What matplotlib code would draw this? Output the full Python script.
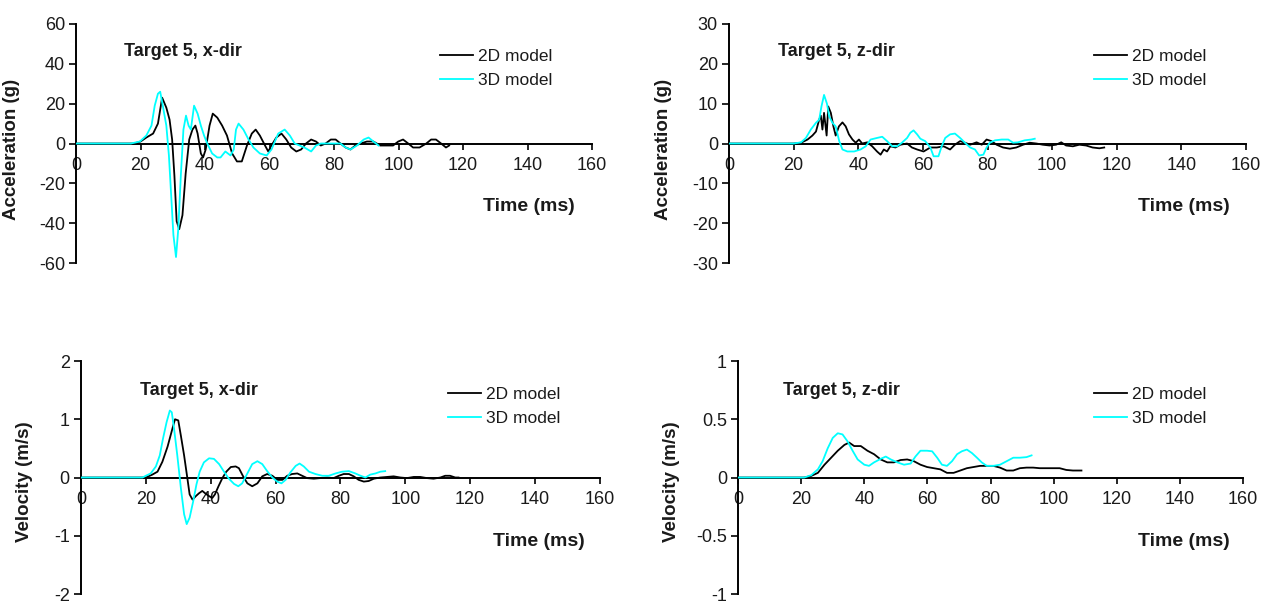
import matplotlib
matplotlib.use("Agg")
import matplotlib.pyplot as plt

plt.rcParams['font.family'] = ['Liberation Sans', 'DejaVu Sans']
plt.rcParams['axes.unicode_minus'] = False

# ---- data ----
# Acceleration, x-dir (g)
acc_x_t2d = [0, 18, 20, 21.8, 23.9, 25.4, 26.7, 28, 29, 29.8, 30.5, 31.2, 32, 33, 34, 35.1, 36.1, 37, 37.7,
             38.7, 39.4, 40.2, 41.4, 42.4, 43.8, 45.3, 46.8, 48.4, 49.9, 51.4, 53, 54.5, 55.7, 57, 58.6, 59.6,
             60.6, 62.1, 63.7, 65.2, 66.7, 68.3, 69.8, 71.3, 72.9, 74.4, 75.9, 77.4, 79, 80.5, 82, 83.6, 85.1,
             86.6, 88.2, 90.2, 92.2, 94.3, 96.3, 98.3, 99.9, 101.4, 103, 104.5, 106.5, 108.6, 110.1, 111.6,
             113.2, 114.7, 115.7]
acc_x_2d = [0, 0, 1, 3, 5, 10, 23, 18, 12, 2, -16, -39, -43, -36, -15, 2, 7, 9, 5,
            -5, -7, -3, 9, 15, 13, 9, 4, -5, -9, -9, -1, 5, 7, 4, -1, -4,
            -1, 3, 5, 2, -2, -4, -3, 0, 2, 1, -1, 0, 2, 2, 0, -2, -3,
            -1, 0, 1, 1, -1, -1, -1, 1, 2, 0, -2, -2, 0, 2, 2,
            0, -2, -1]
acc_x_t3d = [0, 17, 19.8, 21.8, 23.4, 24.4, 25.4, 26.1, 26.9, 28, 28.8, 29.5, 30.2, 31, 31.7, 32.5, 33.3, 34.1,
             34.9, 35.6, 36.6, 37.7, 38.7, 39.7, 40.7, 42.2, 43.8, 44.8, 46.3, 47.9, 48.9, 49.6, 50.4, 51.9,
             53.5, 55, 57, 59.1, 60.6, 62.7, 64.7, 66.3, 67.8, 69.3, 70.8, 72.9, 74.4, 75.9, 78, 80, 82, 83.6,
             85.1, 87.1, 89.2, 90.7, 92.2, 93.8]
acc_x_3d = [0, 0, 1, 4, 9, 19, 25, 26, 19, 9, -6, -26, -46, -57, -43, -16, 7, 14,
            9, 7, 19, 15, 9, 4, 0, -5, -7, -7, -4, -6, -3, 7, 10, 7,
            2, -2, -5, -6, -3, 5, 7, 4, 0, -1, -2, -4, -1, 0, 0, 0, 0, -2,
            -3, -1, 2, 3, 1, -1]

# Acceleration, z-dir (g)
acc_z_t2d = [0, 20, 22.3, 24.3, 25.8, 26.9, 27.9, 28.4, 28.9, 29.4, 30.2, 30.7, 31.5, 32.3, 33, 34, 35.1, 36.1,
             37.1, 38.2, 39.2, 40.2, 41.2, 42.8, 44.3, 45.8, 46.9, 47.9, 48.9, 49.9, 51.5, 53, 55.1, 56.6, 58.2,
             60.2, 62.3, 64.3, 66.4, 68.4, 69.9, 71.5, 73, 74.6, 76.6, 78.2, 79.7, 81.2, 82.8, 84.8, 86.9, 88.9,
             91, 93, 95.1, 97.1, 99.2, 101.2, 102.8, 104.3, 106.4, 108.4, 110.5, 112.5, 114.6, 116.1]
acc_z_2d = [0, 0, 0.2, 1, 2, 3, 6, 7, 3.5, 7.7, 2, 9.3, 7.7, 4.3, 2, 4.3, 5.3, 4.3,
            2.3, 1, 0.2, 1, 0, 0.3, -0.7, -2, -2.8, -1.5, -2, -0.7, -1, -0.3, 0, -1, -1.5,
            -2, -1, -1, -0.7, -1.5, -0.3, 0.6, 0.2, -0.3, 0.3, -0.3, 1, 0.6, -0.3, -1, -1.3, -1,
            -0.3, 0.2, 0, -0.3, -0.5, -0.3, 0.3, -0.5, -0.7, -0.3, -0.5, -1, -1.2, -1]
acc_z_t3d = [0, 20, 22.3, 23.8, 25.3, 26.9, 27.9, 28.6, 29.4, 30.3, 31, 32, 33, 34.1, 35.1, 36.6, 38.7, 40.7,
             42.3, 43.8, 45.8, 47.4, 48.9, 50.5, 52, 53.5, 55.1, 56.1, 57.1, 58.2, 59.2, 60.7, 62.3, 63.3,
             64.8, 65.8, 66.9, 68.4, 69.9, 71.5, 73, 74.6, 76.1, 77.4, 78.7, 79.7, 80.7, 82.3, 84.4, 86.4,
             87.9, 89.4, 91.5, 93.5, 94.6]
acc_z_3d = [0, 0, 0.3, 1.4, 3.5, 5.2, 6, 9.3, 12.2, 10, 6.8, 5.2, 4.3, 0.6, -1.5, -2, -2, -1.5,
            -0.7, 1, 1.4, 1.7, 0.6, -0.7, -0.7, 0.2, 1.4, 2.7, 3.3, 2.3, 1.2, 0.6, -1, -3.2,
            -3.2, -0.7, 1.4, 2.3, 2.5, 1.4, 0.2, -1, -1.5, -3, -2.8, -1, 0.2, 0.8, 1, 1,
            0.2, 0.3, 0.8, 1, 1.2]

# Velocity, x-dir (m/s)
vel_x_t2d = [0, 20, 22, 23.6, 25.1, 26.7, 28.2, 29, 30, 30.8, 31.8, 32.8, 33.5, 34.4, 35.4, 36.4, 37.4, 38.5,
             39.5, 40.5, 41.3, 42.4, 43.6, 44.8, 46.2, 47.7, 48.7, 49.9, 51.3, 52.8, 54.4, 55.9, 57.4, 59,
             60.5, 62.1, 63.6, 65.1, 66.7, 68.2, 69.7, 71.8, 73.8, 75.9, 77.9, 79.5, 81, 82.6, 84.1, 85.6,
             87.2, 88.7, 90.3, 92.3, 94.4, 96.4, 98.5, 100.5, 102.6, 104.6, 106.7, 108.7, 110.8, 112.3,
             113.8, 115.4, 116.4]
vel_x_2d = [0, 0, 0.05, 0.1, 0.27, 0.53, 0.84, 1.0, 0.98, 0.72, 0.38, -0.01, -0.29, -0.38, -0.32, -0.27, -0.23, -0.28,
            -0.32, -0.35, -0.29, -0.15, -0.01, 0.1, 0.18, 0.19, 0.16, 0.03, -0.1, -0.15, -0.1, 0.02, 0.06, 0.03,
            -0.04, -0.04, 0.03, 0.06, 0.07, 0.03, -0.01, -0.02, -0.01, 0, -0.01, 0.03, 0.06, 0.06, 0.02, -0.04,
            -0.07, -0.06, -0.02, 0, 0.01, 0.02, 0, -0.01, 0.01, 0.01, -0.01, -0.02, 0, 0.03,
            0.03, 0, 0]
vel_x_t3d = [0, 19, 20, 21.5, 23.1, 24.3, 25.3, 26.4, 27.4, 28, 28.7, 29.7, 30.8, 31.8, 32.6, 33.5, 34.6, 35.6,
             36.6, 37.9, 39.5, 41, 42.6, 44.1, 45.6, 47.2, 48.5, 49.7, 51.3, 52.8, 54.4, 55.9, 57.4, 59,
             60.5, 61.8, 63.1, 64.6, 66.2, 67.4, 68.7, 70.3, 72.3, 74.4, 76.4, 78.5, 80.5, 82.6, 84.6, 86.2,
             87.7, 89.2, 90.8, 92.3, 93.8]
vel_x_3d = [0, 0, 0.03, 0.07, 0.19, 0.38, 0.67, 0.95, 1.15, 1.12, 0.84, 0.38, -0.18, -0.63, -0.8, -0.69, -0.41, -0.12,
            0.1, 0.26, 0.33, 0.32, 0.23, 0.1, -0.02, -0.11, -0.15, -0.1, 0.07, 0.23, 0.28, 0.23, 0.11, 0,
            -0.07, -0.1, -0.04, 0.09, 0.2, 0.24, 0.19, 0.1, 0.06, 0.03, 0.03, 0.07, 0.1, 0.11, 0.07, 0.03,
            0, 0.05, 0.07, 0.1, 0.11]

# Velocity, z-dir (m/s)
vel_z_t2d = [0, 21, 23.2, 25.3, 27.4, 29.5, 31.6, 33.7, 35.2, 36.8, 38.9, 41, 43.1, 45.2, 47.3, 49.4, 51.5, 53.6,
             55.7, 57.8, 59.9, 62, 64.1, 66.2, 68.3, 70.4, 72.5, 74.6, 76.7, 78.8, 80.9, 83, 85.1, 87.2, 89.3,
             91.4, 93.5, 95.6, 97.7, 99.8, 101.9, 104, 106.1, 108.8]
vel_z_2d = [0, 0, 0.014, 0.04, 0.11, 0.17, 0.23, 0.28, 0.3, 0.27, 0.27, 0.23, 0.2, 0.155, 0.13, 0.13, 0.15, 0.155,
            0.14, 0.11, 0.09, 0.08, 0.07, 0.04, 0.04, 0.06, 0.08, 0.09, 0.1, 0.1, 0.1, 0.085, 0.06, 0.06, 0.08,
            0.085, 0.085, 0.08, 0.08, 0.08, 0.08, 0.065, 0.06, 0.06]
vel_z_t3d = [0, 21, 23.2, 25.3, 26.8, 28.4, 30, 31.6, 33.1, 34.7, 36.3, 37.9, 40, 41.5, 43.1, 45.2, 46.8, 48.4,
             50.5, 52.6, 54.7, 56.2, 57.8, 59.9, 61.5, 63.1, 64.6, 66.2, 67.8, 69.4, 70.9, 72.5, 74.1, 75.7,
             77.2, 78.8, 80.9, 83, 85.1, 87.2, 89.3, 91.4, 93]
vel_z_3d = [0, 0, 0.02, 0.07, 0.14, 0.25, 0.34, 0.38, 0.37, 0.31, 0.23, 0.155, 0.11, 0.1, 0.13, 0.16, 0.18, 0.155,
            0.13, 0.11, 0.12, 0.18, 0.23, 0.23, 0.225, 0.17, 0.11, 0.1, 0.14, 0.2, 0.225, 0.24, 0.21, 0.17,
            0.13, 0.1, 0.1, 0.11, 0.14, 0.17, 0.17, 0.175, 0.19]

x_ticks = [0, 20, 40, 60, 80, 100, 120, 140, 160]

CYAN = "#00FFFF"
TXT = "#1a1a1a"

fig = plt.figure(figsize=(12.67, 6.03), dpi=100)

panels = [
    # position, title, ylabel, ylim, yticks, t2d, v2d, t3d, v3d, title_x, legend_x, time_x, ylabel_x, ylabel_y
    ([0.0600, 0.5638, 0.4073, 0.3964], "Target 5, x-dir", "Acceleration (g)", (-60, 60),
     [-60, -40, -20, 0, 20, 40, 60], acc_x_t2d, acc_x_2d, acc_x_t3d, acc_x_3d, 0.093, 0.705, 0.789, -0.108, 0.477),
    ([0.5754, 0.5638, 0.4081, 0.3964], "Target 5, z-dir", "Acceleration (g)", (-30, 30),
     [-30, -20, -10, 0, 10, 20, 30], acc_z_t2d, acc_z_2d, acc_z_t3d, acc_z_3d, 0.095, 0.706, 0.791, -0.110, 0.477),
    ([0.0639, 0.0149, 0.4096, 0.3864], "Target 5, x-dir", "Velocity (m/s)", (-2, 2),
     [-2, -1, 0, 1, 2], vel_x_t2d, vel_x_2d, vel_x_t3d, vel_x_3d, 0.114, 0.707, 0.794, -0.0925, 0.481),
    ([0.5825, 0.0149, 0.3986, 0.3864], "Target 5, z-dir", "Velocity (m/s)", (-1, 1),
     [-1, -0.5, 0, 0.5, 1], vel_z_t2d, vel_z_2d, vel_z_t3d, vel_z_3d, 0.089, 0.705, 0.792, -0.115, 0.481),
]

for (pos, title, ylab, ylim, yticks, t2, v2, t3, v3, tx, lx, timex, ylx, yly) in panels:
    ax = fig.add_axes(pos)
    ax.plot(t2, v2, color="black", lw=1.3, zorder=3, label="2D model")
    ax.plot(t3, v3, color=CYAN, lw=1.3, zorder=4, label="3D model")

    ax.set_xlim(0, 160)
    ax.set_ylim(*ylim)
    ax.set_xticks(x_ticks)
    ax.set_yticks(yticks)
    ax.set_yticklabels(["%g" % v for v in yticks])

    ax.spines["top"].set_visible(False)
    ax.spines["right"].set_visible(False)
    ax.spines["bottom"].set_position(("data", 0))
    for s in ("left", "bottom"):
        ax.spines[s].set_linewidth(1.4)
        ax.spines[s].set_color("black")
    ax.tick_params(axis="x", direction="out", length=4, width=1.2, pad=6, labelsize=13, labelcolor=TXT)
    ax.tick_params(axis="y", direction="out", length=5, width=1.2, pad=3, labelsize=13, labelcolor=TXT)
    ax.patch.set_visible(False)

    ax.set_ylabel(ylab, fontsize=13.5, fontweight="bold", color=TXT)
    ax.yaxis.set_label_coords(ylx, yly)

    # title and axis-name text, placed where the reference has them
    t_y = 0.883 if pos[1] > 0.5 else 0.873
    time_y = 0.235 if pos[1] > 0.5 else 0.226
    ax.text(tx, t_y, title, transform=ax.transAxes, fontsize=13, fontweight="bold",
            color=TXT, ha="left", va="center")
    ax.text(timex, time_y, "Time (ms)", transform=ax.transAxes, fontsize=14, fontweight="bold",
            color=TXT, ha="left", va="center")

    leg_y = 0.895 if pos[1] > 0.5 else 0.888
    ax.legend(loc="upper left", bbox_to_anchor=(lx, leg_y), frameon=False, fontsize=12.5,
              handlelength=1.9, handletextpad=0.3, labelspacing=0.52, borderpad=0, borderaxespad=0,
              labelcolor=TXT)

fig.savefig("out.png", dpi=100)
